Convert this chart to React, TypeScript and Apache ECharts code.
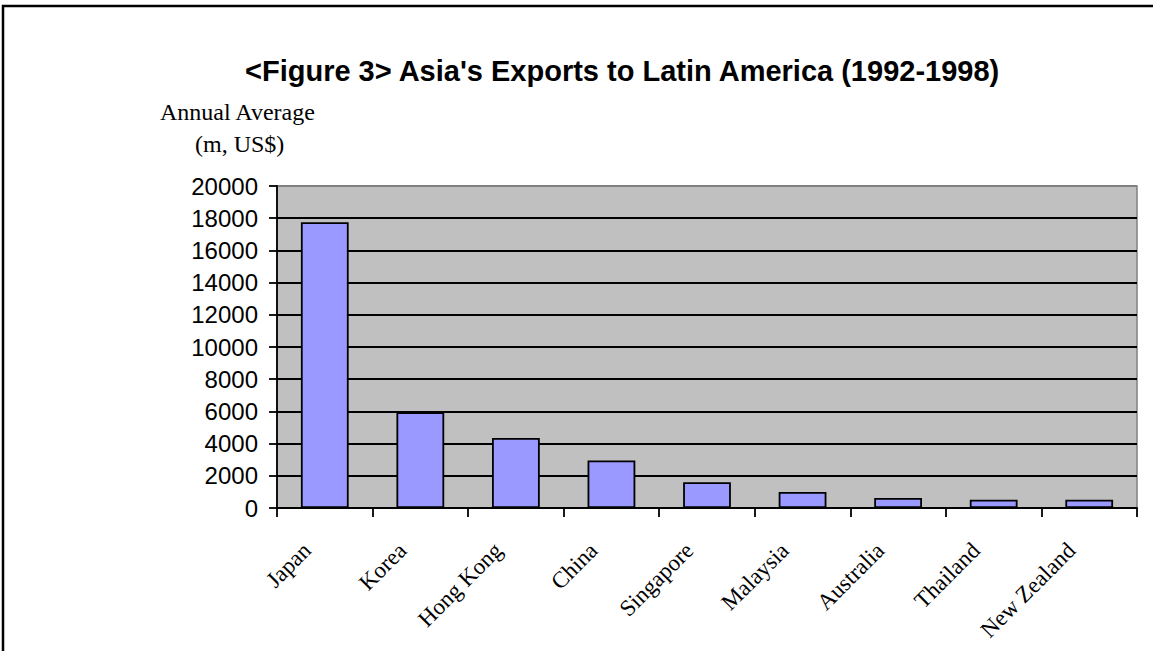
import React, { useEffect, useRef } from "react";
import * as echarts from "echarts";

const categories = ["Japan", "Korea", "Hong Kong", "China", "Singapore", "Malaysia", "Australia", "Thailand", "New Zealand"];
const exportsValues = [17750, 5950, 4350, 2950, 1600, 1000, 620, 520, 520];
const yTicks = { min: 0, max: 20000, interval: 2000 };
const titleText = "<Figure 3> Asia's Exports to Latin America (1992-1998)";
const unitLine1 = "Annual Average";
const unitLine2 = "(m, US$)";

export default function App() {
  const ref = useRef<HTMLDivElement>(null);
  useEffect(() => {
    if (!ref.current) return;
    const chart = echarts.init(ref.current, undefined, { renderer: "svg" });
    const splitColors: string[] = [];
    for (let i = 0; i < 10; i++) splitColors.push("#000000");
    splitColors.push("#808080");
    chart.setOption({
      animation: false,
      backgroundColor: "#ffffff",
      title: {
        text: titleText,
        left: 240,
        top: 51,
        textStyle: { fontFamily: "Liberation Sans, Arial", fontWeight: "bold", fontSize: 29, color: "#000" },
      },
      graphic: [
        {
          type: "polyline",
          shape: { points: [[3, 651], [3, 6], [1153, 6]] },
          style: { stroke: "#000", lineWidth: 2.5, fill: "none" },
          z: 100,
        },
        {
          type: "text",
          left: 160,
          top: 100,
          style: { text: unitLine1, font: "24px 'Liberation Serif', 'Times New Roman', serif", fill: "#000" },
        },
        {
          type: "text",
          left: 195,
          top: 132,
          style: { text: unitLine2, font: "24px 'Liberation Serif', 'Times New Roman', serif", fill: "#000" },
        },
      ],
      grid: {
        left: 277,
        right: 16,
        top: 186,
        bottom: 143,
        show: true,
        backgroundColor: "#C0C0C0",
        borderColor: "#808080",
        borderWidth: 1.5,
        containLabel: false,
      },
      xAxis: {
        type: "category",
        data: categories,
        boundaryGap: true,
        axisLine: { show: true, lineStyle: { color: "#000", width: 1.8 } },
        axisTick: { show: true, alignWithLabel: false, length: 9, lineStyle: { color: "#000", width: 1.8 } },
        axisLabel: {
          rotate: 45,
          interval: 0,
          margin: 21,
          padding: [0, 25, 0, 0],
          fontFamily: "Liberation Serif, Times New Roman, serif",
          fontSize: 23,
          color: "#000",
        },
      },
      yAxis: {
        type: "value",
        min: yTicks.min,
        max: yTicks.max,
        interval: yTicks.interval,
        axisLine: { show: true, lineStyle: { color: "#000", width: 1.8 } },
        axisTick: { show: true, inside: false, length: 8, lineStyle: { color: "#000", width: 1.8 } },
        axisLabel: {
          margin: 19,
          fontFamily: "Liberation Sans, Arial, sans-serif",
          fontSize: 24,
          color: "#000",
          formatter: (v: number) => String(v),
        },
        splitLine: { show: true, lineStyle: { color: splitColors, width: 1.8 } },
      },
      series: [
        {
          type: "bar",
          data: exportsValues,
          barWidth: "50%",
          itemStyle: { color: "#9999FF", borderColor: "#000", borderWidth: 1.8 },
        },
      ],
    });
    return () => chart.dispose();
  }, []);
  return <div ref={ref} style={{ width: 1153, height: 651, position: "absolute", left: 0, top: 0 }} />;
}
